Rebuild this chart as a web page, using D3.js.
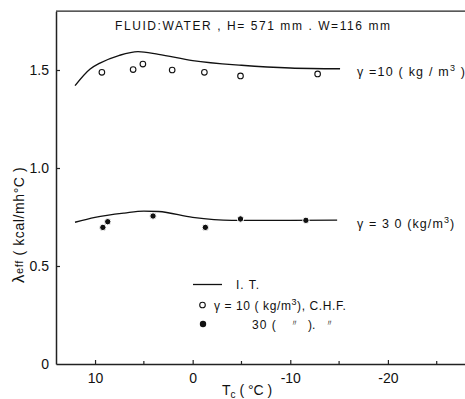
<!DOCTYPE html>
<html>
<head>
<meta charset="utf-8">
<script src="https://cdn.jsdelivr.net/npm/d3@7"></script>
<style>
  html, body { margin: 0; padding: 0; background: #fff; }
  svg { display: block; }
  text { font-family: "Liberation Sans", Arial, sans-serif; fill: #111; }
</style>
</head>
<body>
<svg id="chart" width="465" height="399"></svg>
<script>
// Tc (°C) values and effective conductivity (kcal/mh°C)
const xTicks = [10, 0, -10, -20];
const xMinorTicks = [5, -5, -15, -25];
const yTicks = [0.5, 1.0, 1.5];

// I.T. curves
const itGamma10 = [
  [12.05, 1.42], [10.5, 1.505], [9.5, 1.535], [7.5, 1.575], [5.6, 1.594],
  [3.5, 1.58], [0, 1.548], [-5, 1.524], [-10, 1.51], [-15.1, 1.506]
];
const itGamma30 = [
  [12.05, 0.723], [10, 0.748], [7, 0.77], [5, 0.78], [3.5, 0.778],
  [0, 0.748], [-4, 0.733], [-10, 0.733], [-14.8, 0.734]
];

// C.H.F. measurements
const chfGamma10 = [
  [9.3, 1.488], [6.1, 1.502], [5.1, 1.53], [2.1, 1.50],
  [-1.2, 1.488], [-4.9, 1.47], [-12.8, 1.48]
];
const chfGamma30 = [
  [9.2, 0.697], [8.7, 0.726], [4.06, 0.755], [-1.3, 0.697],
  [-4.9, 0.74], [-11.6, 0.733]
];

const svg = d3.select("#chart");

const x = d3.scaleLinear().domain([14, -28]).range([56, 466]);
const y = d3.scaleLinear().domain([0, 1.8]).range([364, 11.2]);

// frame: left axis, top edge, bottom axis
svg.append("line").attr("x1", 56).attr("x2", 466).attr("y1", y(1.8)).attr("y2", y(1.8))
  .attr("stroke", "#222").attr("stroke-width", 1.3);

const xAxis = svg.append("g").attr("transform", `translate(0,${y(0)})`)
  .call(d3.axisBottom(x).tickValues(xTicks).tickSizeInner(-4).tickSizeOuter(0).tickPadding(9)
    .tickFormat(d => d < 0 ? "-" + Math.abs(d) : String(d)));
xAxis.select(".domain").attr("stroke", "#222").attr("stroke-width", 1.5);
xAxis.selectAll(".tick line").attr("stroke", "#222").attr("stroke-width", 1.2);
xAxis.selectAll("text").attr("font-size", 14).attr("fill", "#111").attr("font-family", "Liberation Sans, Arial, sans-serif");

svg.append("g").selectAll("line").data(xMinorTicks).join("line")
  .attr("x1", d => x(d)).attr("x2", d => x(d)).attr("y1", y(0)).attr("y2", y(0) - 3)
  .attr("stroke", "#222").attr("stroke-width", 1.2);

const yAxis = svg.append("g").attr("transform", `translate(56,0)`)
  .call(d3.axisLeft(y).tickValues([0].concat(yTicks)).tickSizeInner(-4).tickSizeOuter(0).tickPadding(7)
    .tickFormat(d => d === 0 ? "0" : d.toFixed(1)));
yAxis.select(".domain").attr("stroke", "#222").attr("stroke-width", 1.5);
yAxis.selectAll(".tick line").attr("stroke", "#222").attr("stroke-width", 1.2)
  .filter(d => d === 0).remove();
yAxis.selectAll("text").attr("font-size", 14).attr("fill", "#111").attr("font-family", "Liberation Sans, Arial, sans-serif");

// I.T. curves
const line = d3.line().x(d => x(d[0])).y(d => y(d[1])).curve(d3.curveMonotoneX);
[itGamma10, itGamma30].forEach(s => {
  svg.append("path").datum(s.slice().reverse()).attr("d", line)
    .attr("fill", "none").attr("stroke", "#111").attr("stroke-width", 1.4);
});

// C.H.F. points
svg.append("g").selectAll("circle").data(chfGamma10).join("circle")
  .attr("cx", d => x(d[0])).attr("cy", d => y(d[1])).attr("r", 2.8)
  .attr("fill", "#fff").attr("stroke", "#111").attr("stroke-width", 1.1);
svg.append("g").selectAll("circle").data(chfGamma30).join("circle")
  .attr("cx", d => x(d[0])).attr("cy", d => y(d[1])).attr("r", 3.2)
  .attr("fill", "#111").attr("stroke", "#fff").attr("stroke-width", 1);

// title
svg.append("text").attr("x", 115).attr("y", 30).attr("font-size", 12)
  .attr("textLength", 275).attr("lengthAdjust", "spacing")
  .text("FLUID:WATER , H= 571 mm . W=116 mm");

// series labels
function gammaLabel(xp, yp, txt, width) {
  const t = svg.append("text").attr("x", xp).attr("y", yp).attr("font-size", 12.5)
    .attr("letter-spacing", 1.2);
  t.append("tspan").text(txt);
  t.append("tspan").attr("dy", -5).attr("font-size", 9).text("3");
  t.append("tspan").attr("dy", 5).text(" )");
  return t;
}
gammaLabel(357, 76, "γ =10 ( kg / m");
const l30 = svg.append("text").attr("x", 357).attr("y", 228).attr("font-size", 12.5).attr("letter-spacing", 1.1);
l30.append("tspan").text("γ = 3 0 (kg/m");
l30.append("tspan").attr("dy", -5).attr("font-size", 9).text("3");
l30.append("tspan").attr("dy", 5).text(")");

// legend
svg.append("line").attr("x1", 193).attr("x2", 222).attr("y1", 284.5).attr("y2", 284.5)
  .attr("stroke", "#111").attr("stroke-width", 1.3);
svg.append("text").attr("x", 236).attr("y", 289).attr("font-size", 12).attr("letter-spacing", 1).text("I. T.");
svg.append("circle").attr("cx", 202.5).attr("cy", 305).attr("r", 2.8)
  .attr("fill", "#fff").attr("stroke", "#111").attr("stroke-width", 1.1);
const lg2 = svg.append("text").attr("x", 214).attr("y", 309.5).attr("font-size", 12).attr("letter-spacing", 0.6);
lg2.append("tspan").text("γ = 10 ( kg/m");
lg2.append("tspan").attr("dy", -5).attr("font-size", 9).text("3");
lg2.append("tspan").attr("dy", 5).text("), C.H.F.");
svg.append("circle").attr("cx", 203).attr("cy", 324).attr("r", 3.2).attr("fill", "#111");
svg.append("text").attr("x", 252).attr("y", 329).attr("font-size", 12).attr("letter-spacing", 1).text("30 (");
svg.append("text").attr("x", 290).attr("y", 326).attr("font-size", 9).text("〃");
svg.append("text").attr("x", 308).attr("y", 329).attr("font-size", 12).text(").");
svg.append("text").attr("x", 325).attr("y", 326).attr("font-size", 9).text("〃");

// axis titles
const xt = svg.append("text").attr("x", 222).attr("y", 395).attr("font-size", 14);
xt.append("tspan").text("T");
xt.append("tspan").attr("dy", 3).attr("font-size", 10).text("c");
xt.append("tspan").attr("dy", -3).text(" ( °C )");

const yt = svg.append("text").attr("transform", "translate(24,283) rotate(-90)").attr("font-size", 14)
  .attr("letter-spacing", 0.6);
yt.append("tspan").attr("font-size", 17).text("λ");
yt.append("tspan").attr("dy", -1).attr("font-size", 11).text("eff");
yt.append("tspan").attr("dy", 1).text(" ( kcal/mh°C )");
</script>
</body>
</html>
